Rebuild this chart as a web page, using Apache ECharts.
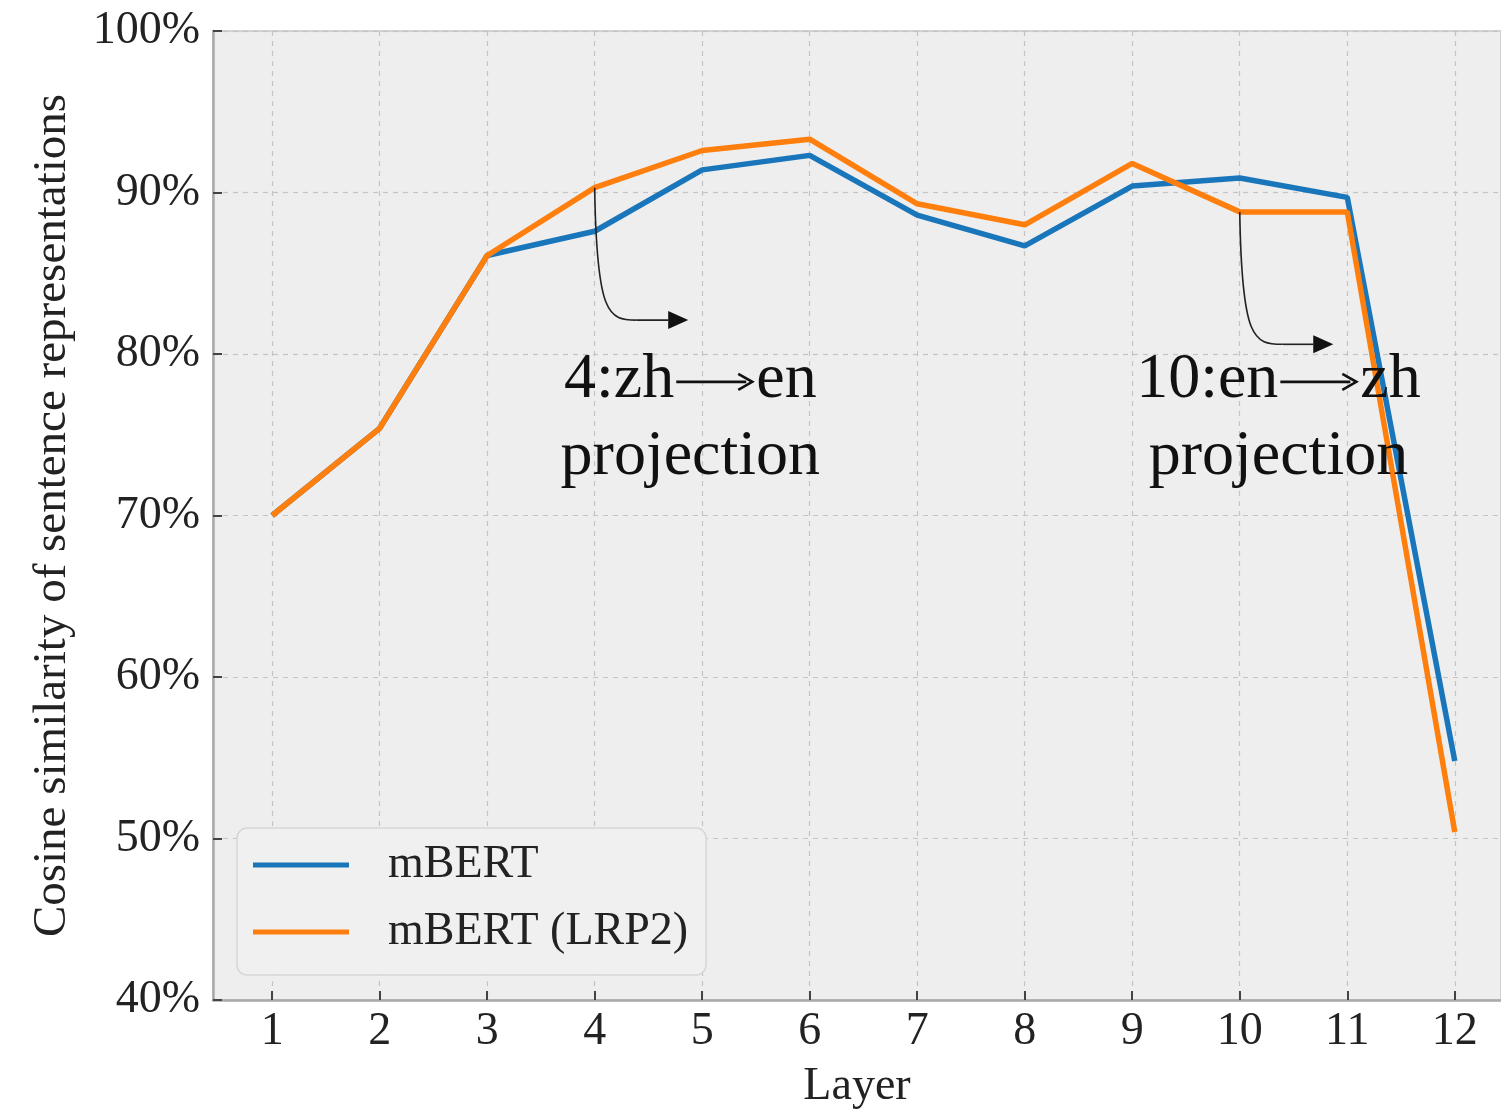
<!DOCTYPE html>
<html>
<head>
<meta charset="utf-8">
<script src="https://cdn.jsdelivr.net/npm/echarts@6/dist/echarts.min.js"></script>
<style>
html,body{margin:0;padding:0;background:#fff;}
#chart{width:1501px;height:1113px;}
</style>
</head>
<body>
<div id="chart"></div>
<script>
var layers = [1,2,3,4,5,6,7,8,9,10,11,12];
var mbert = [0.700,0.754,0.861,0.876,0.914,0.923,0.886,0.867,0.904,0.909,0.897,0.548];
var mbertLRP2 = [0.700,0.754,0.861,0.903,0.926,0.933,0.893,0.880,0.918,0.888,0.888,0.504];
var yTicks = [0.4,0.5,0.6,0.7,0.8,0.9,1.0];
var seriesNames = ['mBERT','mBERT (LRP2)'];
var notes = [
  {from:[4,0.903], corner:[4.39,0.821], tip:[4.87,0.821], text:['4:zh','en','projection'], at:[4.89,0.784,0.736]},
  {from:[10,0.888], corner:[10.40,0.806], tip:[10.87,0.806], text:['10:en','zh','projection'], at:[10.36,0.784,0.736]}
];

var FONT = '"Liberation Serif","DejaVu Serif",serif';
var chart = echarts.init(document.getElementById('chart'), null, {renderer:'canvas'});

function pairs(vals){ return layers.map(function(l,i){ return [l, vals[i]]; }); }

var option = {
  animation:false,
  backgroundColor:'#ffffff',
  grid:{left:213, top:31, right:0, bottom:113, show:true, backgroundColor:'#eeeeee', borderColor:'#d2d2d2', borderWidth:2, containLabel:false, outerBoundsMode:'none'},
  legend:{
    orient:'vertical', left:237, top:828,
    data:seriesNames,
    icon:'rect', itemWidth:96, itemHeight:5, itemGap:15,
    padding:[11,18,17,16],
    backgroundColor:'#f0f0f0', borderColor:'#d6d6d6', borderWidth:1.5, borderRadius:10,
    textStyle:{fontFamily:FONT, fontSize:46, color:'#222', lineHeight:52, padding:[0,0,0,34]}
  },
  xAxis:{
    type:'value', min:0.45, max:12.43,
    name:'Layer', nameLocation:'middle', nameGap:64,
    nameTextStyle:{fontFamily:FONT, fontSize:46, color:'#222'},
    axisLine:{show:true, onZero:false, lineStyle:{color:'#a9a9a9', width:2.5}},
    axisTick:{show:true, inside:true, length:9, lineStyle:{color:'#444', width:2}, customValues:layers},
    axisLabel:{fontFamily:FONT, fontSize:46, color:'#222', margin:9, customValues:layers, formatter:function(v){return String(v);}},
    splitLine:{show:true, lineStyle:{color:'#c4c4c4', width:1.2, type:[5,5]}}
  },
  yAxis:{
    type:'value', min:0.4, max:1.0, interval:0.1,
    name:'Cosine similarity of sentence representations', nameLocation:'middle', nameGap:137, nameRotate:90,
    nameTextStyle:{fontFamily:FONT, fontSize:47, color:'#222'},
    axisLine:{show:true, onZero:false, lineStyle:{color:'#a9a9a9', width:2.5}},
    axisTick:{show:true, inside:true, length:9, lineStyle:{color:'#444', width:2}},
    axisLabel:{fontFamily:FONT, fontSize:46, color:'#222', margin:13, formatter:function(v){return Math.round(v*100)+'%';}},
    splitLine:{show:true, lineStyle:{color:'#c4c4c4', width:1.2, type:[5,5]}}
  },
  series:[
    {name:seriesNames[0], type:'line', data:pairs(mbert), symbol:'none', lineStyle:{color:'#1a76bb', width:5.5}, itemStyle:{color:'#1a76bb'}, z:3},
    {name:seriesNames[1], type:'line', data:pairs(mbertLRP2), symbol:'none', lineStyle:{color:'#ff7f0e', width:5.5}, itemStyle:{color:'#ff7f0e'}, z:4}
  ]
};
chart.setOption(option);

function px(p){ return chart.convertToPixel({gridIndex:0}, p); }
var els = [];
var FS = 64, ARW = 82;
var ctx = document.createElement('canvas').getContext('2d');
ctx.font = FS + 'px ' + FONT;
notes.forEach(function(n){
  var s = px(n.from), c = px(n.corner), t = px(n.tip);
  var head = 20, half = 9;
  els.push({type:'bezierCurve', shape:{x1:s[0], y1:s[1], cpx1:s[0]+2, cpy1:c[1]-4, cpx2:s[0]+14, cpy2:c[1], x2:c[0], y2:c[1]},
    style:{stroke:'#222', lineWidth:1.6, fill:null}, z:10});
  els.push({type:'line', shape:{x1:c[0], y1:c[1], x2:t[0]-head, y2:t[1]}, style:{stroke:'#222', lineWidth:1.6}, z:10});
  els.push({type:'polygon', shape:{points:[[t[0],t[1]],[t[0]-head,t[1]-half],[t[0]-head,t[1]+half]]}, style:{fill:'#111'}, z:10});
  var a1 = px([n.at[0], n.at[1]]), a2 = px([n.at[0], n.at[2]]);
  var w1 = ctx.measureText(n.text[0]).width, w2 = ctx.measureText(n.text[1]).width;
  var total = w1 + ARW + w2;
  var x0 = a1[0] - total/2;
  els.push({type:'text', x:x0, y:a1[1], style:{text:n.text[0], fontFamily:FONT, fontSize:FS, fill:'#111', align:'left', verticalAlign:'middle'}, z:11});
  var ay = a1[1] + 2, ax1 = x0 + w1 + 2, ax2 = x0 + w1 + ARW - 4;
  els.push({type:'line', shape:{x1:ax1, y1:ay, x2:ax2-6, y2:ay}, style:{stroke:'#111', lineWidth:2.6}, z:11});
  els.push({type:'polyline', shape:{points:[[ax2-14,ay-8],[ax2,ay],[ax2-14,ay+8]]}, style:{stroke:'#111', lineWidth:2.6, fill:null}, z:11});
  els.push({type:'text', x:x0 + w1 + ARW, y:a1[1], style:{text:n.text[1], fontFamily:FONT, fontSize:FS, fill:'#111', align:'left', verticalAlign:'middle'}, z:11});
  els.push({type:'text', x:a2[0], y:a2[1], style:{text:n.text[2], fontFamily:FONT, fontSize:FS, fill:'#111', align:'center', verticalAlign:'middle'}, z:11});
});
chart.setOption({graphic:{elements:els}});
</script>
</body>
</html>
